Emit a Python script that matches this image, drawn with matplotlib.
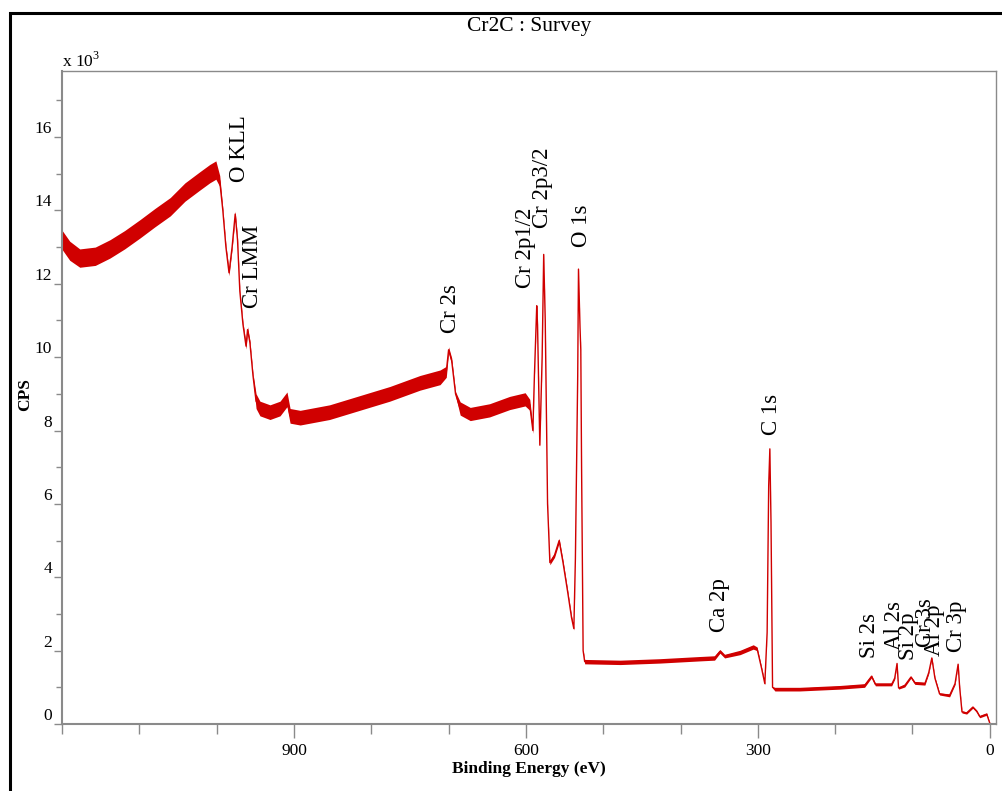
import matplotlib
matplotlib.use("Agg")
import matplotlib.pyplot as plt
from matplotlib.patches import Rectangle
from matplotlib.ticker import MultipleLocator

plt.rcParams["font.family"] = ["Liberation Serif", "DejaVu Serif"]
plt.rcParams["mathtext.fontset"] = "custom"
plt.rcParams["mathtext.rm"] = "Liberation Serif"

# survey spectrum (binding energy eV, CPS, noise half-width)
energy = [1200, 1190, 1177, 1157, 1138, 1119, 1099, 1080, 1060, 1041, 1022, 1009,
          1001, 996, 992, 988, 984, 980, 976, 973, 970, 966, 962, 960, 957, 953,
          949, 944, 931, 918, 909, 905, 892, 854, 815, 776, 737, 711, 703, 700,
          696, 691, 685, 672, 647, 621, 601, 595, 591, 589, 586, 585, 582, 579,
          577, 575, 572, 569, 563, 557, 552, 546, 541, 538, 536, 533, 532, 530,
          529, 528, 526, 524, 478, 427, 375, 356, 349, 343, 323, 306, 301, 295,
          291, 288, 286, 284.5, 283, 281, 278, 246, 194, 162, 153, 148, 127, 123,
          120, 118, 110, 102, 97, 84, 79, 75, 71, 65, 52, 45, 41, 39, 36, 30, 22,
          17, 13, 4, 0]
cps = [13200, 12900, 12700, 12750, 12950, 13200, 13500, 13800, 14100, 14500, 14800, 15000,
       15100, 14800, 14000, 13000, 12300, 13000, 13900, 13200, 11800, 10900, 10300, 10750, 10400, 9500,
       8800, 8600, 8500, 8600, 8850, 8400, 8350, 8500, 8750, 9000, 9300, 9450, 9600, 10200,
       9900, 9000, 8600, 8450, 8550, 8750, 8850, 8700, 8000, 9500, 11400, 10900, 7600, 10000,
       12800, 11000, 6000, 4400, 4600, 5000, 4400, 3600, 2900, 2600, 4500, 9500, 12400, 10800,
       10200, 7000, 2000, 1700, 1680, 1720, 1780, 1800, 1980, 1850, 1950, 2100, 2050, 1500,
       1100, 2500, 6500, 7500, 5500, 1000, 950, 950, 1000, 1050, 1300, 1080, 1080, 1250,
       1650, 980, 1050, 1280, 1120, 1100, 1400, 1800, 1250, 820, 780, 1100, 1630, 1000, 330, 300, 460,
       350, 200, 270, 20]
noise = [260, 260, 250, 250, 250, 250, 250, 250, 250, 250, 250, 250,
         250, 150, 60, 60, 80, 60, 80, 60, 60, 60, 80, 80, 60, 60,
         200, 200, 200, 200, 200, 200, 200, 200, 200, 200, 200, 200, 150, 80,
         80, 60, 180, 180, 180, 180, 180, 150, 80, 40, 40, 40, 40, 40,
         40, 40, 40, 60, 60, 60, 60, 50, 50, 40, 30, 20, 20, 20,
         20, 20, 20, 60, 60, 60, 60, 60, 50, 50, 60, 60, 50, 30,
         30, 20, 20, 20, 20, 20, 50, 50, 50, 50, 40, 40, 40, 30,
         20, 30, 40, 30, 40, 40, 30, 20, 30, 30, 40, 30, 20, 30, 30, 30, 30,
         30, 30, 30, 10]

# peak annotations: (text, energy, cps at bottom of text)
peak_names = ["O KLL", "Cr LMM", "Cr 2s", "Cr 2p1/2", "Cr 2p3/2", "O 1s", "C 1s",
              "Ca 2p", "Si 2s", "Al 2s", "Si 2p", "Cr 3s", "Al 2p", "Cr 3p"]
peak_pos = [970, 954, 698, 601, 578, 528, 282, 349, 155, 123, 105, 83, 71, 43]
peak_text_y = [14770, 11335, 10650, 11880, 13515, 13000, 7875, 2507, 1800, 2016,
               1744, 2098, 1853, 1962]

red = "#d00000"
grey = "#8a8a8a"

fig = plt.figure(figsize=(10.03, 7.91), dpi=100)
ax = fig.add_axes([62 / 1003, 1 - 724 / 791, (996 - 62) / 1003, (724 - 71) / 791])

lower = [c - n for c, n in zip(cps, noise)]
upper = [c + n for c, n in zip(cps, noise)]
ax.fill_between(energy, lower, upper, color=red, linewidth=0)
ax.plot(energy, cps, color=red, linewidth=1.0)

for name, e, yt in zip(peak_names, peak_pos, peak_text_y):
    ax.text(e, yt, name, rotation=90, ha="center", va="bottom", fontsize=16.5,
            color="black")

ax.set_xlim(1200, -8)
ax.set_ylim(0, 17800)

ax.set_xticks([900, 600, 300, 0])
ax.set_xticklabels(["900", "600", "300", "0"], fontsize=12.5)
ax.xaxis.set_minor_locator(MultipleLocator(100))
yt = list(range(0, 17000, 2000))
ax.set_yticks(yt)
ax.set_yticklabels([str(v // 1000) for v in yt], fontsize=12.5, va="bottom")
ax.yaxis.set_minor_locator(MultipleLocator(1000))

ax.tick_params(axis="x", which="major", direction="out", length=10, width=1, color=grey, pad=4)
ax.tick_params(axis="x", which="minor", direction="out", length=7, width=1, color=grey)
ax.tick_params(axis="y", which="major", direction="out", length=6, width=1, color=grey, pad=1)
ax.tick_params(axis="y", which="minor", direction="out", length=4, width=1, color=grey)
for side, sp in ax.spines.items():
    sp.set_color(grey)
    sp.set_linewidth(1.5 if side in ("left", "bottom") else 1.0)

ax.set_xlabel("Binding Energy (eV)", fontsize=12.5, fontweight="bold", labelpad=1)
ax.set_ylabel("CPS", fontsize=12.5, fontweight="bold")
ax.yaxis.set_label_coords(-0.031, 0.505)
ax.text(0.0, 1.0, r"x 10$^{3}$", transform=ax.transAxes, ha="left", va="bottom",
        fontsize=12.5)
fig.text(0.528, 1 - 27 / 791, "Cr2C : Survey", ha="center", va="center", fontsize=15.5)

# outer frame of the exported report
fig.patches.append(Rectangle((10 / 1003, -0.1), 1.2, 1.1 - 13 / 791,
                             transform=fig.transFigure, fill=False,
                             edgecolor="black", linewidth=2.2, clip_on=False))

fig.savefig("out.png", dpi=100)
